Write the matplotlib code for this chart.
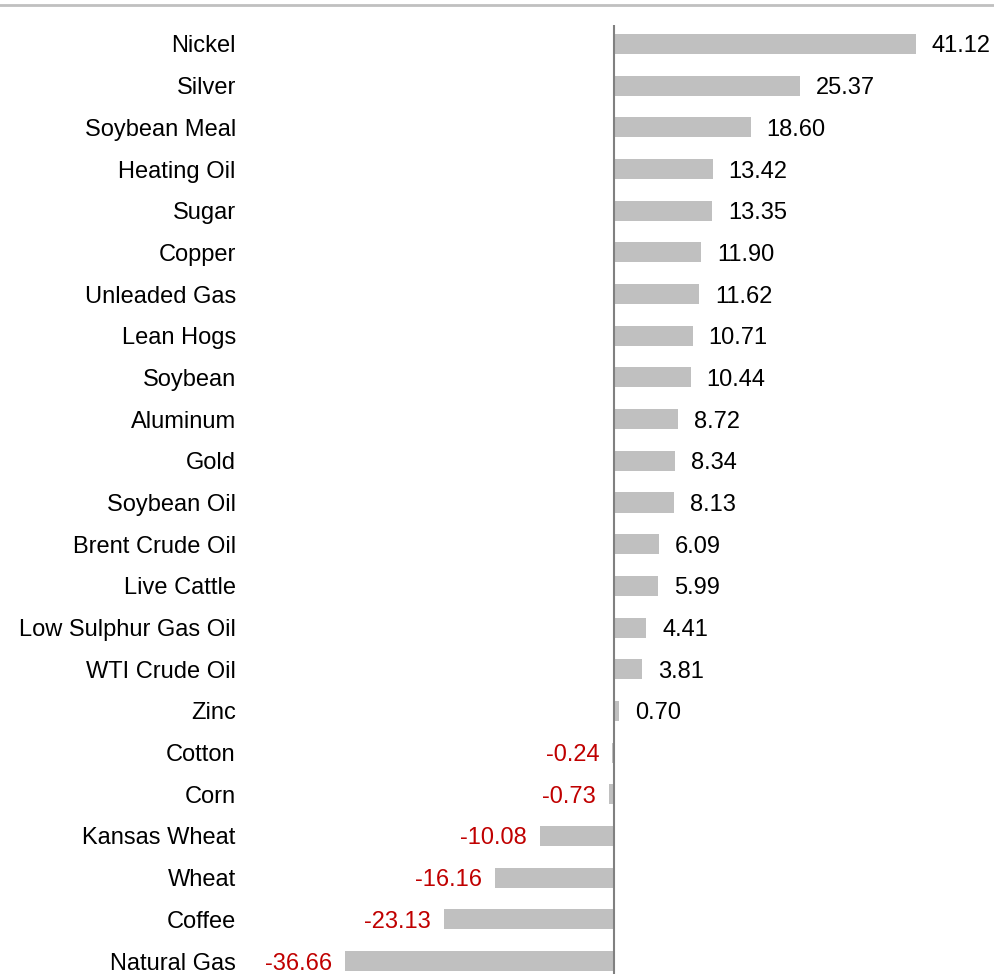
import matplotlib
matplotlib.use('Agg')
import matplotlib.pyplot as plt
from matplotlib.lines import Line2D

plt.rcParams['font.family'] = ['Liberation Sans', 'DejaVu Sans']

commodities = ['Nickel', 'Silver', 'Soybean Meal', 'Heating Oil', 'Sugar', 'Copper',
               'Unleaded Gas', 'Lean Hogs', 'Soybean', 'Aluminum', 'Gold', 'Soybean Oil',
               'Brent Crude Oil', 'Live Cattle', 'Low Sulphur Gas Oil', 'WTI Crude Oil',
               'Zinc', 'Cotton', 'Corn', 'Kansas Wheat', 'Wheat', 'Coffee', 'Natural Gas']
returns = [41.12, 25.37, 18.60, 13.42, 13.35, 11.90, 11.62, 10.71, 10.44, 8.72, 8.34, 8.13,
           6.09, 5.99, 4.41, 3.81, 0.70, -0.24, -0.73, -10.08, -16.16, -23.13, -36.66]

W, H = 994, 974
fig = plt.figure(figsize=(W / 100, H / 100), dpi=100)
# axes from x=240px to 994px, y=25px to 974px
ax = fig.add_axes([240 / W, 0, 754 / W, (974 - 25) / H])

pos = list(range(len(commodities)))
ax.barh(pos, returns, height=0.48, color='#c0c0c0', zorder=2)

ppu = 302 / 41.12  # pixels per unit
ax.set_xlim((240 - 614) / ppu, (994 - 614) / ppu)
step = 917 / 22
ax.set_ylim(22 + (974 - 961) / step, -(44 - 25) / step)

fs = 17
for p, v in zip(pos, returns):
    if v >= 0:
        ax.text(v + 16 / ppu, p, f'{v:.2f}', ha='left', va='center_baseline',
                fontsize=fs, color='black')
    else:
        ax.text(v - 13 / ppu, p, f'{v:.2f}', ha='right', va='center_baseline',
                fontsize=fs, color='#c00000')

ax.set_yticks(pos)
ax.set_yticklabels(commodities, fontsize=fs, va='center_baseline')
ax.tick_params(axis='y', length=0, pad=3)
ax.set_xticks([])
for s in ['top', 'right', 'bottom', 'left']:
    ax.spines[s].set_visible(False)
ax.axvline(0, color='#808080', linewidth=1.5, zorder=3)

fig.add_artist(Line2D([0, 1], [1 - 5 / H, 1 - 5 / H], color='#c0c0c0', linewidth=2,
                      transform=fig.transFigure))

fig.savefig('out.png', dpi=100)
